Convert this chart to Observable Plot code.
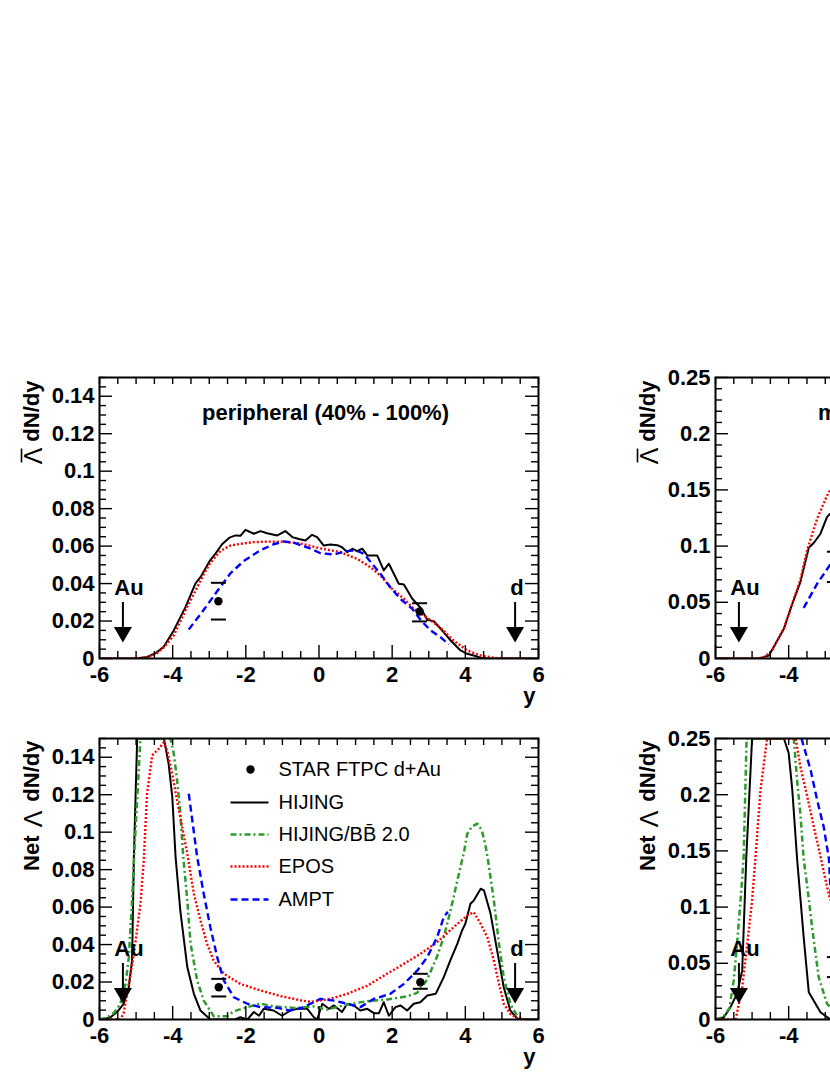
<!DOCTYPE html>
<html><head><meta charset="utf-8">
<script src="https://cdn.jsdelivr.net/npm/d3@7"></script>
<script src="https://cdn.jsdelivr.net/npm/@observablehq/plot@0.6"></script>
<style>
html,body{margin:0;padding:0;background:#fff;overflow:hidden;}
#fig{position:relative;width:830px;height:1075px;overflow:hidden;background:#fff;}
#fig > div{position:absolute;width:578px;}
#fig svg{max-width:none !important;}
</style></head><body><div id="fig"></div>
<script>
// ---------------- data ----------------
const xTickLabels = [-6, -4, -2, 0, 2, 4, 6];
const xTickLabelsVisibleRight = [-6, -4];   // right column is cut by the page edge
const yTickLabelsPeri = [0, 0.02, 0.04, 0.06, 0.08, 0.1, 0.12, 0.14];
const yTickLabelsMid = [0, 0.05, 0.1, 0.15, 0.2, 0.25];
const beamRapidity = [{x: -5.36, label: "Au"}, {x: 5.36, label: "d"}];
const legendLabels = ["STAR FTPC d+Au", "HIJING", "HIJING/BB\u0304 2.0", "EPOS", "AMPT"];

// peripheral (40%-100%), anti-Lambda dN/dy
const periLbarHIJING = [[-6,0],[-5,0],[-4.7,0.0008],[-4.45,0.003],[-4.24,0.0064],[-3.97,0.015],[-3.65,0.0274],[-3.38,0.040],[-3.24,0.0434],[-2.98,0.0523],[-2.83,0.056],[-2.65,0.061],[-2.45,0.0645],[-2.28,0.0657],[-2.15,0.0655],[-2.01,0.0687],[-1.78,0.0666],[-1.6,0.068],[-1.42,0.0669],[-1.14,0.0657],[-0.92,0.068],[-0.73,0.0648],[-0.55,0.0638],[-0.37,0.063],[-0.19,0.066],[-0.05,0.0648],[0.13,0.0603],[0.31,0.0609],[0.5,0.0605],[0.63,0.0594],[0.77,0.0568],[0.91,0.0586],[1.04,0.0573],[1.18,0.0586],[1.32,0.055],[1.59,0.055],[1.77,0.047],[1.91,0.0506],[2.18,0.0399],[2.32,0.0395],[2.55,0.0319],[2.78,0.027],[2.96,0.0207],[3.14,0.0199],[3.41,0.014],[3.6,0.0096],[3.87,0.0043],[4.05,0.0025],[4.23,0.0016],[4.42,0.0004],[4.6,0],[6,0]];
const periLbarEPOS = [[-5.95,0],[-5,0],[-4.7,0.0006],[-4.45,0.0025],[-4.24,0.006],[-3.97,0.0123],[-3.65,0.0256],[-3.42,0.0345],[-3.15,0.045],[-2.97,0.051],[-2.69,0.0575],[-2.42,0.0603],[-2.15,0.0612],[-1.78,0.0621],[-1.42,0.0624],[-0.97,0.0623],[-0.51,0.0614],[0.04,0.0588],[0.59,0.0568],[1.04,0.0532],[1.41,0.0487],[1.68,0.0443],[1.95,0.038],[2.32,0.0319],[2.59,0.0265],[2.96,0.0218],[3.32,0.0164],[3.68,0.0096],[4.05,0.0043],[4.42,0.0016],[4.78,0.0004],[5.0,0],[5.75,0]];
const periLbarAMPT = [[-3.56,0.0155],[-3.15,0.026],[-2.78,0.036],[-2.42,0.0455],[-2.06,0.052],[-1.6,0.0578],[-1.24,0.061],[-0.96,0.0625],[-0.69,0.0618],[-0.23,0.0586],[0.04,0.0562],[0.41,0.0555],[0.73,0.0573],[1.0,0.0577],[1.23,0.0559],[1.45,0.0506],[1.68,0.0452],[1.95,0.038],[2.22,0.0319],[2.55,0.0265],[2.78,0.0205],[3.05,0.015],[3.32,0.0114],[3.55,0.0075]];
const periLbarSTAR = [[-2.75,0.0306,0.0208,0.0404],[2.75,0.0251,0.0198,0.0295]]; // [y, value, low, high]

// mid-central (20%-40%), anti-Lambda dN/dy
const midLbarHIJING = [[-6,0],[-4.8,0],[-4.54,0.0027],[-4.31,0.016],[-4.13,0.0265],[-3.9,0.0487],[-3.68,0.068],[-3.45,0.0985],[-3.31,0.103],[-3.13,0.111],[-2.95,0.126],[-2.86,0.129]];
const midLbarEPOS = [[-6,0],[-4.85,0],[-4.68,0.001],[-4.45,0.007],[-4.31,0.016],[-4.13,0.027],[-3.9,0.049],[-3.68,0.07],[-3.49,0.097],[-3.22,0.1245],[-2.95,0.145],[-2.86,0.15]];
const midLbarAMPT = [[-3.59,0.045],[-3.22,0.0666],[-2.86,0.0838]];
const midLbarSTAR = [[-2.75,0.081,0.068,0.095]];

// peripheral (40%-100%), net Lambda dN/dy
const periNetHIJING = [[-6,0],[-5.85,0.0003],[-5.7,0.0012],[-5.52,0.004],[-5.34,0.0084],[-5.2,0.017],[-5.11,0.0315],[-5.06,0.0867],[-4.97,0.15],[-4.24,0.15],[-4.11,0.1365],[-4.01,0.1187],[-3.92,0.0867],[-3.79,0.058],[-3.6,0.028],[-3.42,0.0137],[-3.24,0.0048],[-2.97,0],[-2.3,0],[-2.15,0.0012],[-1.96,0],[-1.78,0.004],[-1.64,0.002],[-1.51,0.0057],[-1.24,0.0048],[-1.01,0.002],[-0.78,0.0048],[-0.6,0.0057],[-0.32,0.0057],[-0.14,0.0012],[-0.05,0],[0.09,0.0084],[0.27,0.0057],[0.41,0.0075],[0.63,0.004],[0.77,0.0084],[0.95,0.0075],[1.13,0.0048],[1.32,0.0057],[1.5,0.0034],[1.64,0.0034],[1.77,0.0092],[1.91,0.002],[2.09,0.0066],[2.23,0.0075],[2.41,0.0048],[2.59,0.0084],[2.77,0.0092],[2.96,0.0128],[3.19,0.0137],[3.41,0.0226],[3.59,0.0315],[3.78,0.0404],[3.91,0.0475],[4.0,0.0511],[4.14,0.0618],[4.23,0.0635],[4.42,0.0698],[4.51,0.0689],[4.69,0.0564],[4.87,0.0368],[5.05,0.0172],[5.23,0.0048],[5.42,0.0004],[5.6,0],[6,0]];
const periNetBB = [[-6,0],[-5.8,0.001],[-5.61,0.0034],[-5.43,0.0084],[-5.29,0.019],[-5.2,0.033],[-5.11,0.0635],[-5.06,0.085],[-4.88,0.15],[-4.06,0.15],[-3.97,0.142],[-3.88,0.128],[-3.79,0.11],[-3.71,0.0867],[-3.6,0.0635],[-3.51,0.0404],[-3.33,0.0208],[-3.15,0.0101],[-2.88,0.0018],[-2.51,0.0018],[-2.33,0.0044],[-1.96,0.0066],[-1.6,0.0085],[-1.24,0.007],[-0.69,0.0062],[-0.14,0.007],[0.22,0.0053],[0.77,0.008],[1.32,0.0098],[1.86,0.0107],[2.41,0.0124],[2.68,0.0142],[2.96,0.0214],[3.23,0.0338],[3.41,0.044],[3.55,0.0546],[3.68,0.0653],[3.78,0.0742],[3.91,0.085],[3.97,0.09],[4.05,0.099],[4.18,0.103],[4.33,0.1045],[4.45,0.101],[4.55,0.093],[4.62,0.085],[4.78,0.0635],[4.92,0.0404],[5.05,0.0226],[5.23,0.0084],[5.42,0.0018],[5.6,0],[5.8,0]];
const periNetEPOS = [[-5.79,0],[-5.43,0],[-5.34,0.0034],[-5.2,0.019],[-5.06,0.035],[-4.88,0.0618],[-4.79,0.085],[-4.7,0.1205],[-4.56,0.141],[-4.38,0.1445],[-4.24,0.148],[-4.15,0.1436],[-4.01,0.131],[-3.88,0.117],[-3.74,0.1027],[-3.6,0.0885],[-3.42,0.067],[-3.24,0.0529],[-3.06,0.0404],[-2.88,0.0315],[-2.6,0.0244],[-2.15,0.019],[-1.6,0.0155],[-1.05,0.0125],[-0.51,0.0103],[-0.23,0.0094],[0.31,0.011],[0.77,0.0137],[1.32,0.018],[1.86,0.0244],[2.32,0.0297],[2.77,0.035],[3.23,0.0413],[3.68,0.0493],[4.05,0.0555],[4.23,0.0573],[4.42,0.0511],[4.6,0.044],[4.78,0.0315],[4.92,0.019],[5.05,0.0084],[5.23,0.003],[5.42,0.0007],[5.6,0],[5.8,0]];
const periNetAMPT = [[-3.56,0.1205],[-3.33,0.0867],[-3.15,0.067],[-2.97,0.0493],[-2.78,0.033],[-2.6,0.0208],[-2.33,0.0119],[-1.96,0.0084],[-1.6,0.0066],[-1.14,0.0062],[-0.8,0.0048],[-0.5,0.006],[-0.23,0.0084],[0.04,0.011],[0.41,0.0101],[0.77,0.0084],[1.13,0.0066],[1.5,0.011],[1.95,0.0137],[2.32,0.019],[2.69,0.0262],[2.96,0.0333],[3.23,0.044],[3.41,0.0546],[3.52,0.0575]];
const periNetSTAR = [[-2.74,0.0172,0.0123,0.0217],[2.77,0.0199,0.0164,0.0244]];

// mid-central (20%-40%), net Lambda dN/dy
const midNetHIJING = [[-6,0],[-5.77,0.002],[-5.59,0.011],[-5.41,0.023],[-5.27,0.0437],[-5.16,0.143],[-5.0,0.25],[-4.13,0.25],[-4.0,0.237],[-3.9,0.204],[-3.77,0.143],[-3.59,0.0733],[-3.45,0.0243],[-3.13,0.0065],[-2.86,0]];
const midNetBB = [[-6,0],[-5.8,0.002],[-5.62,0.01],[-5.5,0.035],[-5.41,0.0675],[-5.3,0.112],[-5.23,0.145],[-5.15,0.25],[-3.86,0.25],[-3.77,0.213],[-3.68,0.183],[-3.59,0.143],[-3.49,0.118],[-3.36,0.0822],[-3.18,0.0377],[-2.95,0.014],[-2.86,0.011]];
const midNetEPOS = [[-6,0],[-5.45,0],[-5.36,0.014],[-5.27,0.0288],[-5.13,0.0675],[-5.0,0.106],[-4.91,0.143],[-4.77,0.204],[-4.59,0.25],[-3.81,0.25],[-3.68,0.225],[-3.49,0.198],[-3.31,0.171],[-3.13,0.145],[-2.95,0.118],[-2.86,0.106]];
const midNetAMPT = [[-3.65,0.25],[-3.4,0.222],[-3.22,0.195],[-3.04,0.171],[-2.9,0.143],[-2.84,0.106]];
const midNetSTAR = [[-2.75,0.047,0.0377,0.0555]];

// ---------------- styles ----------------
const FONT = "'Liberation Sans', Arial, Helvetica, sans-serif";
const STY = {
  HIJING: {stroke: "#000000", strokeWidth: 2, strokeDasharray: null},
  BB:     {stroke: "#2e9a2e", strokeWidth: 2.5, strokeDasharray: "6,3,2,3"},
  EPOS:   {stroke: "#ff0000", strokeWidth: 2.4, strokeDasharray: "2,2"},
  AMPT:   {stroke: "#0000ff", strokeWidth: 2.4, strokeDasharray: "7,4"}
};
const FW = 439, FH = 281;
const hline = {draw(ctx, size) { const r = Math.sqrt(size / Math.PI); ctx.moveTo(-r, 0); ctx.lineTo(r, 0); }};
const vline = {draw(ctx, size) { const r = Math.sqrt(size / Math.PI); ctx.moveTo(0, -r); ctx.lineTo(0, r); }};
const triDown = {draw(ctx, size) { const a = Math.sqrt(size / (3 * Math.sqrt(3))); ctx.moveTo(0, 2 * a); ctx.lineTo(Math.sqrt(3) * a, -a); ctx.lineTo(-Math.sqrt(3) * a, -a); ctx.closePath(); }};

function panel(cfg) {
  const {ymax, yMajor, yMinorStep, curves, star, title, ytitle, legend, mt, mb, xLabels, beams, showY} = cfg;
  const near = (a, b) => Math.abs(a - b) < 1e-9;
  const xMinor = d3.range(-6, 6.0001, 0.5).filter(v => !xTickLabels.some(m => near(m, v)));
  const yMinor = d3.range(0, ymax + 1e-9, yMinorStep).filter(v => !yMajor.some(m => near(m, v)));
  const marks = [];
  // curves
  for (const [key, data] of curves) {
    const s = STY[key];
    marks.push(Plot.line(data, {x: d => d[0], y: d => d[1], stroke: s.stroke, strokeWidth: s.strokeWidth,
      strokeDasharray: s.strokeDasharray, strokeLinecap: "butt", strokeLinejoin: "round", clip: true, curve: "linear"}));
  }
  // data points
  if (star) {
    marks.push(Plot.dot(star, {x: d => d[0], y: d => d[2], symbol: hline, r: 7.5, stroke: "black", strokeWidth: 2, fill: "none"}));
    marks.push(Plot.dot(star, {x: d => d[0], y: d => d[3], symbol: hline, r: 7.5, stroke: "black", strokeWidth: 2, fill: "none"}));
    marks.push(Plot.dot(star, {x: d => d[0], y: d => d[1], r: 4.2, fill: "black", stroke: "none"}));
  }
  // beam rapidity arrows
  marks.push(Plot.tickX(beams, {x: "x", insetTop: FH - 56, insetBottom: 30, stroke: "black", strokeWidth: 2}));
  marks.push(Plot.dot(beams, {x: "x", frameAnchor: "bottom", dy: -26.4, symbol: triDown, r: 6.7, fill: "black", stroke: "none"}));
  marks.push(Plot.text(beams.filter(d => d.label === "Au"), {x: "x", text: "label", frameAnchor: "bottom", dx: 6, dy: -64, lineAnchor: "bottom", textAnchor: "middle"}));
  marks.push(Plot.text(beams.filter(d => d.label === "d"), {x: "x", text: "label", frameAnchor: "bottom", dx: 2, dy: -64, lineAnchor: "bottom", textAnchor: "middle"}));
  // ticks (inward)
  marks.push(Plot.tickX(xTickLabels, {x: d => d, insetTop: FH - 13, strokeWidth: 1.4}));
  marks.push(Plot.tickX(xMinor, {x: d => d, insetTop: FH - 7, strokeWidth: 1.4}));
  marks.push(Plot.tickX([...xTickLabels, ...xMinor], {x: d => d, insetBottom: FH - 7, strokeWidth: 1.4}));
  marks.push(Plot.tickY(yMajor, {y: d => d, insetRight: FW - 13, strokeWidth: 1.4}));
  marks.push(Plot.tickY(yMinor, {y: d => d, insetRight: FW - 7, strokeWidth: 1.4}));
  marks.push(Plot.tickY(yMajor, {y: d => d, insetLeft: FW - 13, strokeWidth: 1.4}));
  marks.push(Plot.tickY(yMinor, {y: d => d, insetLeft: FW - 7, strokeWidth: 1.4}));
  marks.push(Plot.frame({stroke: "black", strokeWidth: 2}));
  // tick labels
  marks.push(Plot.axisX({ticks: xLabels, tickSize: 0, tickPadding: 8, tickFormat: d => String(d), label: null}));
  marks.push(Plot.axisY({ticks: yMajor, tickSize: 0, tickPadding: 5, tickFormat: d => String(d), label: null}));
  // axis titles
  if (showY) marks.push(Plot.text(["y"], {frameAnchor: "bottom-right", dx: -3, dy: 44, textAnchor: "end", lineAnchor: "bottom"}));
  for (const p of ytitle) {
    if (p.bar) {
      marks.push(Plot.dot([0], {frameAnchor: "top-left", dx: p.dx, dy: p.dy, symbol: vline, r: p.r, stroke: "black", strokeWidth: 1.6, fill: "none"}));
    } else {
      marks.push(Plot.text([p.text], {frameAnchor: "top-left", rotate: -90, dx: p.dx, dy: p.dy, textAnchor: "end",
        lineAnchor: "bottom", fontWeight: p.weight, fontSize: p.size}));
    }
  }
  if (title) marks.push(Plot.text([title], {frameAnchor: "top", dx: 6.5, dy: 42, lineAnchor: "bottom", textAnchor: "middle"}));
  // legend
  if (legend) {
    const rows = [31, 64, 96, 128, 161];
    marks.push(Plot.dot([0], {frameAnchor: "top-left", dx: 151, dy: rows[0], r: 4.2, fill: "black", stroke: "none"}));
    ["HIJING", "BB", "EPOS", "AMPT"].forEach((k, i) => {
      const s = STY[k];
      marks.push(Plot.dot([0], {frameAnchor: "top-left", dx: 150, dy: rows[i + 1], symbol: hline, r: 19, fill: "none",
        stroke: s.stroke, strokeWidth: s.strokeWidth, strokeDasharray: s.strokeDasharray, strokeLinecap: "butt"}));
    });
    legendLabels.forEach((lab, i) => {
      marks.push(Plot.text([lab], {frameAnchor: "top-left", dx: 179, dy: rows[i], textAnchor: "start", lineAnchor: "middle",
        fontWeight: "normal", fontSize: 20}));
    });
  }
  return Plot.plot({
    width: 99 + FW + 40, height: mt + FH + mb,
    marginLeft: 99, marginRight: 40, marginTop: mt, marginBottom: mb,
    x: {domain: [-6, 6]}, y: {domain: [0, ymax]},
    style: {fontFamily: FONT, fontSize: "22px", fontWeight: "bold", color: "black", background: "transparent", overflow: "visible", maxWidth: "none"},
    marks
  });
}

const titleLbar = [
  {text: "dN/dy", dx: -61, dy: 3, weight: "bold", size: 22},
  {text: "\u039B", dx: -58, dy: 70, weight: "normal", size: 25},
  {bar: true, dx: -78, dy: 78, r: 7}
];
const titleNet = [
  {text: "dN/dy", dx: -61, dy: 2, weight: "bold", size: 22},
  {text: "\u039B", dx: -58, dy: 72, weight: "normal", size: 25},
  {text: "Net", dx: -61, dy: 97, weight: "bold", size: 22}
];
const beamsLeft = beamRapidity;
const beamsRight = beamRapidity.filter(d => d.label === "Au"); // "d" arrow lies beyond the page edge

const panels = [
  {left: 0, top: 360, cfg: {ymax: 0.15, yMajor: yTickLabelsPeri, yMinorStep: 0.005, mt: 17, mb: 55,
    xLabels: xTickLabels, beams: beamsLeft, showY: true,
    curves: [["HIJING", periLbarHIJING], ["EPOS", periLbarEPOS], ["AMPT", periLbarAMPT]], star: periLbarSTAR,
    title: "peripheral (40% - 100%)", ytitle: titleLbar}},
  {left: 616, top: 360, cfg: {ymax: 0.25, yMajor: yTickLabelsMid, yMinorStep: 0.01, mt: 17, mb: 55,
    xLabels: xTickLabelsVisibleRight, beams: beamsRight, showY: false,
    curves: [["HIJING", midLbarHIJING], ["EPOS", midLbarEPOS], ["AMPT", midLbarAMPT]], star: midLbarSTAR,
    title: "mid-central (20% - 40%)", ytitle: titleLbar}},
  {left: 0, top: 720, cfg: {ymax: 0.15, yMajor: yTickLabelsPeri, yMinorStep: 0.005, mt: 18, mb: 56,
    xLabels: xTickLabels, beams: beamsLeft, showY: true,
    curves: [["HIJING", periNetHIJING], ["BB", periNetBB], ["EPOS", periNetEPOS], ["AMPT", periNetAMPT]], star: periNetSTAR,
    title: null, ytitle: titleNet, legend: true}},
  {left: 616, top: 720, cfg: {ymax: 0.25, yMajor: yTickLabelsMid, yMinorStep: 0.01, mt: 18, mb: 56,
    xLabels: xTickLabelsVisibleRight, beams: beamsRight, showY: false,
    curves: [["HIJING", midNetHIJING], ["BB", midNetBB], ["EPOS", midNetEPOS], ["AMPT", midNetAMPT]], star: midNetSTAR,
    title: null, ytitle: titleNet}}
];

const fig = document.getElementById("fig");
for (const p of panels) {
  const div = document.createElement("div");
  div.style.left = p.left + "px";
  div.style.top = p.top + "px";
  div.appendChild(panel(p.cfg));
  fig.appendChild(div);
}
</script>
</body></html>
